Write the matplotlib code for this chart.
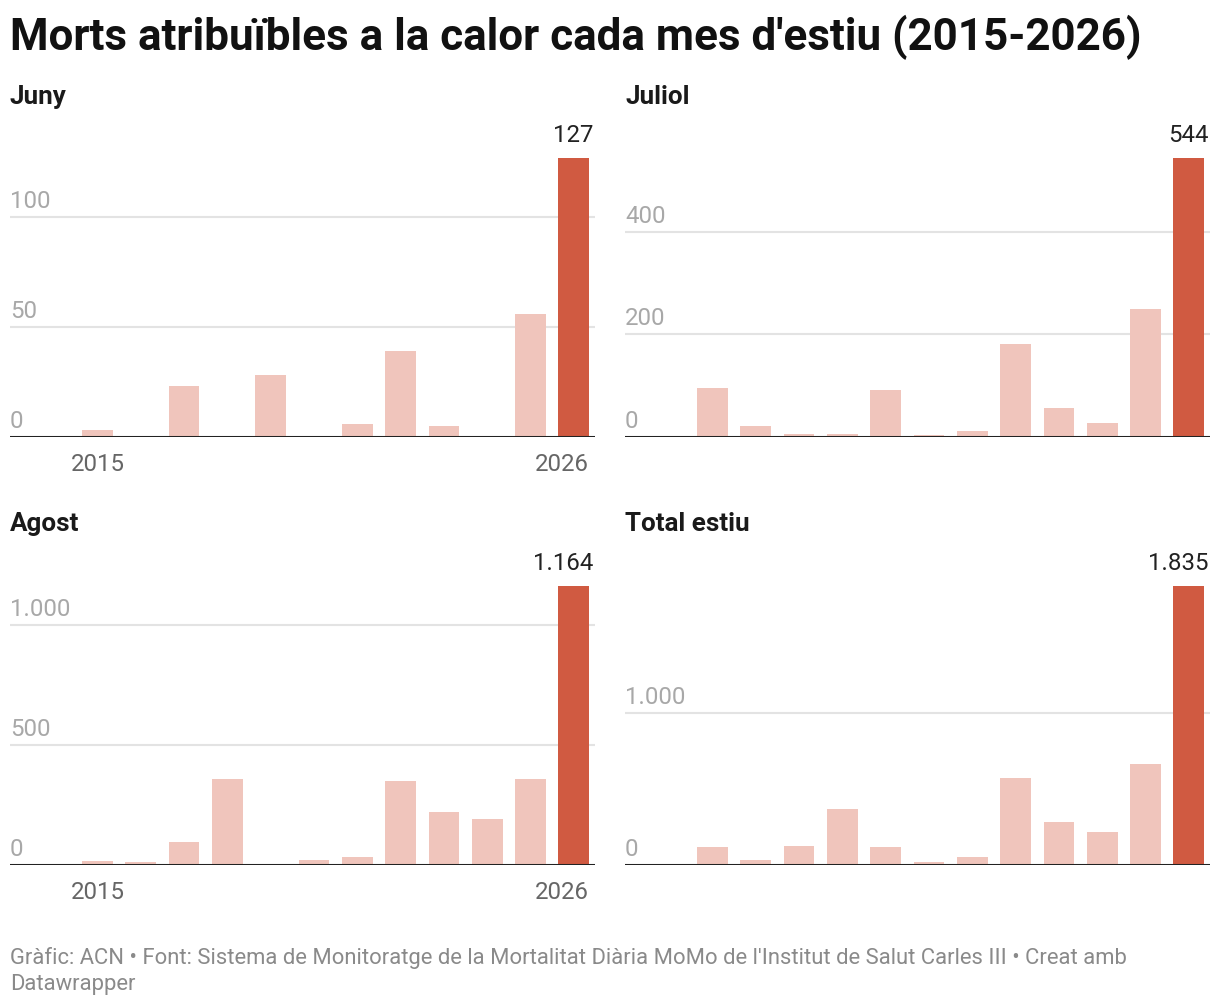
import matplotlib
matplotlib.use("Agg")
import matplotlib.pyplot as plt

plt.rcParams['font.family'] = ['Roboto', 'DejaVu Sans']

years = list(range(2015, 2027))
juny = [3, 0, 23, 0, 28, 0, 6, 39, 5, 0, 56, 127]
juliol = [95, 21, 6, 6, 92, 4, 12, 181, 57, 27, 249, 544]
agost = [17, 12, 96, 358, 0, 21, 33, 350, 221, 192, 358, 1164]
total = [118, 33, 125, 368, 118, 20, 53, 571, 282, 217, 663, 1835]

panel_titles = ["Juny", "Juliol", "Agost", "Total estiu"]
panel_values = [juny, juliol, agost, total]
panel_ticks = [[0, 50, 100], [0, 200, 400], [0, 500, 1000], [0, 1000]]
show_years = [True, False, True, False]

title = "Morts atribuïbles a la calor cada mes d'estiu (2015-2026)"
footer = ("Gràfic: ACN • Font: Sistema de Monitoratge de la Mortalitat Diària MoMo de l'Institut de Salut Carles III • Creat amb\n"
          "Datawrapper")

LIGHT = "#f0c5bc"
DARK = "#d05a41"
GRID = "#e3e3e3"
TICK = "#a8a8a8"

W, H = 1220, 1008
fig = plt.figure(figsize=(W / 100, H / 100), dpi=100)
PX = 0.72  # px -> pt


def fmt(v):
    return f"{v:,}".replace(",", ".")


# pixel layout: (left, right, top_of_axes, baseline)
layouts = [(10, 595, 120, 437), (625, 1210, 120, 437),
           (10, 595, 548, 865), (625, 1210, 548, 865)]
title_y = [97, 97, 524, 524]
BAR_TOP_GAP = 38

fig.text(10 / W, 1 - 37 / H, title, fontsize=44 * PX, fontweight='bold',
         ha='left', va='center', color='#111111')

for i in range(4):
    l, r, t, b = layouts[i]
    ax = fig.add_axes([l / W, 1 - b / H, (r - l) / W, (b - t) / H])
    vals = panel_values[i]
    xs = list(range(len(years)))
    colors = [LIGHT] * (len(vals) - 1) + [DARK]
    ax.bar(xs, vals, width=0.71, color=colors, zorder=2)
    vmax = max(vals)
    ax.set_ylim(0, vmax * (b - t) / (b - t - BAR_TOP_GAP))
    ax.set_xlim(-2.02, 11.49)
    for tk in panel_ticks[i]:
        if tk > 0:
            ax.axhline(tk, color=GRID, lw=1.5, zorder=1)
        ax.annotate(fmt(tk), xy=(0, tk), xycoords=('axes fraction', 'data'),
                    xytext=(0, 4), textcoords='offset pixels',
                    ha='left', va='bottom', fontsize=24 * PX, color=TICK)
    ax.axhline(0, color='#222222', lw=2.2, zorder=3)
    ax.annotate(fmt(vals[-1]), xy=(0.997, vals[-1]), xycoords=('axes fraction', 'data'),
                xytext=(0, 11), textcoords='offset pixels',
                ha='right', va='bottom', fontsize=24 * PX, color='#222222')
    if show_years[i]:
        ax.annotate(str(years[0]), xy=(0, 0), xycoords='data',
                    xytext=(0, -16), textcoords='offset pixels',
                    ha='center', va='top', fontsize=24 * PX, color='#666666')
        ax.annotate(str(years[-1]), xy=(11 + 0.355, 0), xycoords='data',
                    xytext=(0, -16), textcoords='offset pixels',
                    ha='right', va='top', fontsize=24 * PX, color='#666666')
    for s in ax.spines.values():
        s.set_visible(False)
    ax.set_xticks([])
    ax.set_yticks([])
    ax.patch.set_alpha(0)
    fig.text(l / W, 1 - title_y[i] / H, panel_titles[i], fontsize=26 * PX,
             fontweight='bold', ha='left', va='center', color='#1a1a1a')

fig.text(10 / W, 1 - 947 / H, footer, fontsize=22 * PX, color='#8a8a8a',
         ha='left', va='top', linespacing=1.3)

fig.savefig("out.png", dpi=100)
